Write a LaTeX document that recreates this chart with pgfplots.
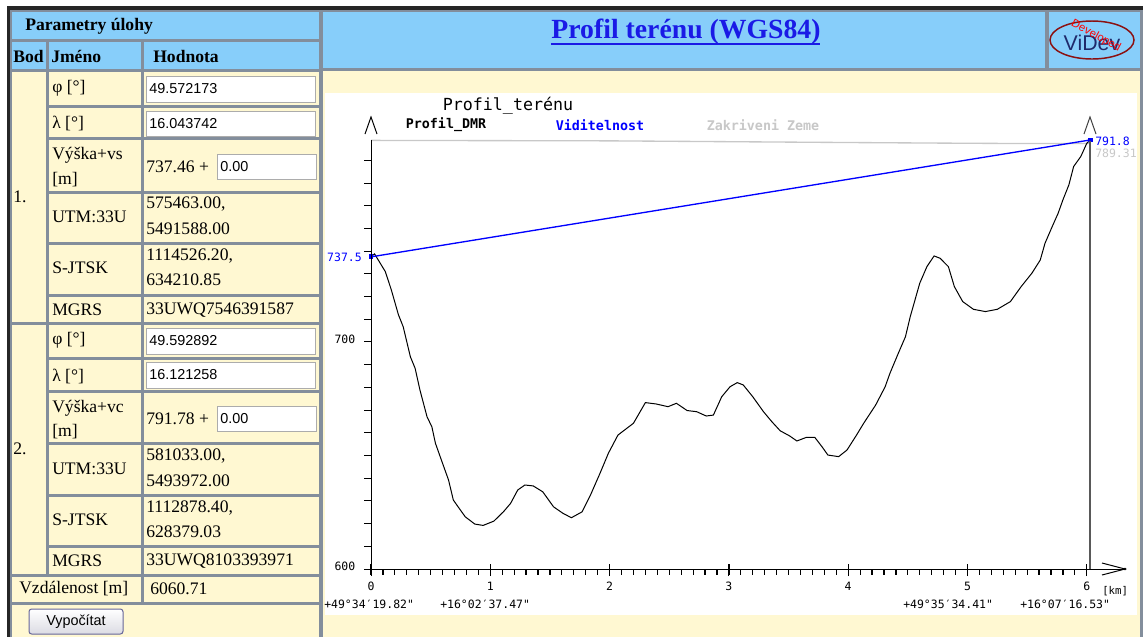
\documentclass[border=0pt]{standalone}
\usepackage{fontspec}
\setmainfont{Liberation Serif}
\newfontfamily\sansf{Liberation Sans}
\newfontfamily\monof{DejaVu Sans Mono}
\usepackage{pgfplots}
\pgfplotsset{compat=1.18}
\definecolor{hdrblue}{HTML}{87CEFA}
\definecolor{cream}{HTML}{FFF8D2}
\definecolor{cellborder}{HTML}{838E9C}
\definecolor{linkblue}{HTML}{1A1AE6}
\definecolor{earthgray}{HTML}{C8C8C8}
\definecolor{logonavy}{HTML}{1F2A6B}
\definecolor{logored}{HTML}{8B1010}
\newcommand{\tf}{\fontsize{13.2}{15}\selectfont}
\newcommand{\inpf}{\sansf\fontsize{10.8}{12}\selectfont}
\newcommand{\cf}{\monof\fontsize{8.6}{10}\selectfont}
\newcommand{\cell}[5]{\fill[#5] (#1,#2) rectangle (#3,#4);}
\newcommand{\inbox}[5]{\draw[fill=white,draw=gray!65,line width=0.75pt] (#1,#2) rectangle (#3,#4); \node[anchor=west,inner sep=0] at (#1+3,#2/2+#4/2) {\inpf #5};}

\pgfplotstableread{
x y
0.00 737.6
0.03 738.8
0.12 731.0
0.17 723.0
0.23 712.0
0.27 706.7
0.33 693.5
0.37 688.4
0.41 678.9
0.47 667.0
0.51 662.7
0.54 655.4
0.59 648.0
0.65 639.2
0.69 630.4
0.73 627.4
0.79 623.0
0.87 619.8
0.94 619.2
1.03 621.1
1.11 625.2
1.17 628.9
1.23 634.8
1.29 637.0
1.36 636.6
1.44 634.0
1.53 627.4
1.61 624.5
1.68 622.6
1.77 625.2
1.84 632.6
1.92 642.2
1.99 651.0
2.07 659.0
2.20 664.2
2.30 673.3
2.39 672.7
2.49 671.5
2.56 673.0
2.65 669.8
2.73 669.3
2.81 667.4
2.87 667.8
2.94 675.9
3.01 680.3
3.07 682.1
3.12 681.1
3.20 675.9
3.29 669.3
3.36 664.9
3.43 660.9
3.51 658.6
3.57 656.4
3.65 658.0
3.72 658.0
3.78 653.9
3.83 650.2
3.92 649.5
3.99 652.4
4.07 659.0
4.13 664.2
4.23 672.2
4.31 680.3
4.35 686.2
4.42 695.0
4.48 702.3
4.52 711.1
4.56 718.5
4.60 725.9
4.66 733.2
4.72 737.9
4.77 736.9
4.84 733.2
4.89 724.4
4.96 717.8
5.05 714.4
5.15 713.4
5.25 714.4
5.36 717.8
5.45 724.4
5.54 730.3
5.61 736.1
5.65 743.5
5.71 750.8
5.76 756.7
5.80 762.6
5.85 769.2
5.89 777.3
5.95 781.7
6.00 787.5
6.03 789.0
}\terrain

\pgfplotstableread{
x y
0.00 788.8
2.00 788.6
3.90 787.9
4.80 787.6
5.50 787.4
6.03 787.4
}\earth

\pgfplotstableread{
x y
0.00 737.5
6.03 789.0
}\visib

\begin{document}
\begin{tikzpicture}
\begin{scope}[x=0.75pt,y=-0.75pt]
\useasboundingbox (0,0) rectangle (1143,637);
\fill[white] (0,0) rectangle (1143,637);
\fill[cellborder] (10,10) rectangle (1143,637);
\fill[black!85] (7,6) rectangle (1143,10);
\fill[black!85] (7,6) rectangle (10,637);
% left table
\cell{12}{12}{319}{39}{hdrblue}
\cell{12}{42}{46}{69}{hdrblue}
\cell{49}{42}{141}{69}{hdrblue}
\cell{144}{42}{319}{69}{hdrblue}
\cell{12}{72}{46}{322}{cream}
\cell{12}{325}{46}{574}{cream}
\foreach \a/\b in {72/105,108/137,140/191,194/242,245/294,297/322,325/357,360/390,393/442,445/494,497/545,548/574}{
  \cell{49}{\a}{141}{\b}{cream}
  \cell{144}{\a}{319}{\b}{cream}
}
\cell{12}{577}{141}{602}{cream}
\cell{144}{577}{319}{602}{cream}
\cell{12}{605}{319}{637}{cream}
% right side
\cell{323}{12}{1045}{68}{hdrblue}
\cell{1049}{12}{1140}{68}{hdrblue}
\cell{323}{71}{1140}{637}{cream}
\cell{325}{93}{1137}{615}{white}
% table texts
\node[anchor=west,inner sep=0] at (25,26) {\tf\bfseries Parametry úlohy};
\node[anchor=west,inner sep=0] at (13,56) {\tf\bfseries Bod};
\node[anchor=west,inner sep=0] at (51,56) {\tf\bfseries Jméno};
\node[anchor=west,inner sep=0] at (153,56) {\tf\bfseries Hodnota};
% point 1
\node[anchor=west,inner sep=0] at (52,88) {\tf φ [°]};
\inbox{146}{76}{315}{102}{49.572173}
\node[anchor=west,inner sep=0] at (52,123) {\tf λ [°]};
\inbox{146}{111}{315}{136}{16.043742}
\node[anchor=west,inner sep=0] at (52,155) {\tf Výška+vs};
\node[anchor=west,inner sep=0] at (52,180) {\tf [m]};
\node[anchor=west,inner sep=0] at (146,167) {\tf 737.46 +};
\inbox{217}{154}{316}{179}{0.00}
\node[anchor=west,inner sep=0] at (13,197) {\tf 1.};
\node[anchor=west,inner sep=0] at (52,217) {\tf UTM:33U};
\node[anchor=west,inner sep=0] at (146,204) {\tf 575463.00,};
\node[anchor=west,inner sep=0] at (146,229) {\tf 5491588.00};
\node[anchor=west,inner sep=0] at (52,268) {\tf S-JTSK};
\node[anchor=west,inner sep=0] at (146,256) {\tf 1114526.20,};
\node[anchor=west,inner sep=0] at (146,280) {\tf 634210.85};
\node[anchor=west,inner sep=0] at (52,310) {\tf MGRS};
\node[anchor=west,inner sep=0] at (146,310) {\tf 33UWQ7546391587};
% point 2
\node[anchor=west,inner sep=0] at (52,340) {\tf φ [°]};
\inbox{146}{328}{315}{354}{49.592892}
\node[anchor=west,inner sep=0] at (52,376) {\tf λ [°]};
\inbox{146}{362}{315}{388}{16.121258}
\node[anchor=west,inner sep=0] at (52,408) {\tf Výška+vc};
\node[anchor=west,inner sep=0] at (52,432) {\tf [m]};
\node[anchor=west,inner sep=0] at (146,419) {\tf 791.78 +};
\inbox{217}{406}{316}{431}{0.00}
\node[anchor=west,inner sep=0] at (13,449) {\tf 2.};
\node[anchor=west,inner sep=0] at (52,469) {\tf UTM:33U};
\node[anchor=west,inner sep=0] at (146,456) {\tf 581033.00,};
\node[anchor=west,inner sep=0] at (146,481) {\tf 5493972.00};
\node[anchor=west,inner sep=0] at (52,520) {\tf S-JTSK};
\node[anchor=west,inner sep=0] at (146,508) {\tf 1112878.40,};
\node[anchor=west,inner sep=0] at (146,532) {\tf 628379.03};
\node[anchor=west,inner sep=0] at (52,561) {\tf MGRS};
\node[anchor=west,inner sep=0] at (146,561) {\tf 33UWQ8103393971};
\node[anchor=west,inner sep=0] at (19,589) {\tf Vzdálenost [m]};
\node[anchor=west,inner sep=0] at (150,589) {\tf 6060.71};
% button
\shade[top color=white,bottom color=blue!12!gray!25,rounded corners=2pt] (29,609) rectangle (123,634);
\draw[gray!80!blue,rounded corners=2pt,line width=0.75pt] (29,609) rectangle (123,634);
\node[inner sep=0] at (76,621.5) {\inpf Vypočítat};
% title
\node[inner sep=0,text=linkblue] at (686,32) {\fontsize{20.8}{24}\selectfont\bfseries Profil terénu (WGS84)};
\draw[linkblue,line width=1.2pt] (551,44) -- (820,44);
% logo
\draw[logored,line width=1.1pt] (1092,40) ellipse [x radius=42,y radius=19];
\node[inner sep=0,text=logonavy] at (1092,43) {\sansf\fontsize{16}{17}\selectfont ViDev};
\node[inner sep=0,text=red,rotate=-28] at (1096,36) {\sansf\fontsize{8.5}{10}\selectfont Developed};
\end{scope}

\begin{axis}[
  at={(278.25pt,-426.75pt)}, anchor=south west,
  scale only axis, width=539.5pt, height=321.8pt,
  xmin=0, xmax=6.03, ymin=600, ymax=789,
  clip=false,
  axis x line*=bottom, axis y line*=left,
  axis line style={draw=none},
  xtick={0,1,2,3,4,5,6}, xticklabels={0,1,2,3,4,5,6},
  ytick={600,700}, yticklabels={600,700},
  extra y ticks={610,620,630,640,650,660,670,680,690,710,720,730,740,750,760,770,780},
  extra y tick labels={},
  tick align=outside,
  major tick length=5.25pt,
  major tick style={black, line width=0.75pt},
  ticklabel style={font=\cf},
  xticklabel style={yshift=-1pt},
  yticklabel style={xshift=-3pt, yshift=2pt},
]
\addplot[earthgray, line width=1pt] table {\earth};
\addplot[black, line width=0.75pt] table {\terrain};
\addplot[blue, line width=1pt, mark=square*, mark size=1.3pt, mark options={fill=blue}] table {\visib};
\end{axis}

\begin{scope}[x=0.75pt,y=-0.75pt]
% axes lines with open arrows
\draw[black, line width=0.75pt] (371,569) -- (1125,569);
\foreach \t in {0,1,2,3,4,5,6}{\draw[black, line width=0.9pt] (371+119.3*\t,564) -- (371+119.3*\t,575);}
\foreach \t in {1,...,60}{\draw[black, line width=0.9pt] (371+11.93*\t,569) -- (371+11.93*\t,574.5);}
\draw[black, line width=0.75pt] (1102,563) -- (1125,569) -- (1102,575);
\fill[black] (1125,569) circle (1.3);
\draw[black, line width=0.75pt] (371,569) -- (371,140);
\draw[black, line width=0.75pt] (365,134) -- (371,117) -- (377,134);
\draw[black!65, line width=1.5pt] (1090,569) -- (1090,141);
\draw[black!75, line width=0.75pt] (1084,134) -- (1090,117) -- (1096,134);
% chart texts
\node[inner sep=0] at (508,106) {\monof\fontsize{12.5}{14}\selectfont Profil\_terénu};
\node[inner sep=0] at (446,125) {\monof\fontsize{10}{12}\selectfont\bfseries Profil\_DMR};
\node[inner sep=0,text=blue] at (600,125) {\monof\fontsize{10}{12}\selectfont\bfseries Viditelnost};
\node[inner sep=0,text=earthgray] at (763,125) {\monof\fontsize{10}{12}\selectfont\bfseries Zakriveni Zeme};
\node[anchor=east,inner sep=0,text=blue] at (362,257) {\cf 737.5};
\node[anchor=west,inner sep=0,text=blue] at (1095,141) {\cf 791.8};
\node[anchor=west,inner sep=0,text=earthgray] at (1095,153) {\cf 789.31};
\node[anchor=west,inner sep=0] at (1102,591) {\monof\fontsize{8}{9}\selectfont [km]};
\node[anchor=west,inner sep=0] at (324,604) {\cf +49°34′19.82"};
\node[anchor=west,inner sep=0] at (440,604) {\cf +16°02′37.47"};
\node[anchor=west,inner sep=0] at (903,604) {\cf +49°35′34.41"};
\node[anchor=west,inner sep=0] at (1020,604) {\cf +16°07′16.53"};
\end{scope}
\end{tikzpicture}
\end{document}
